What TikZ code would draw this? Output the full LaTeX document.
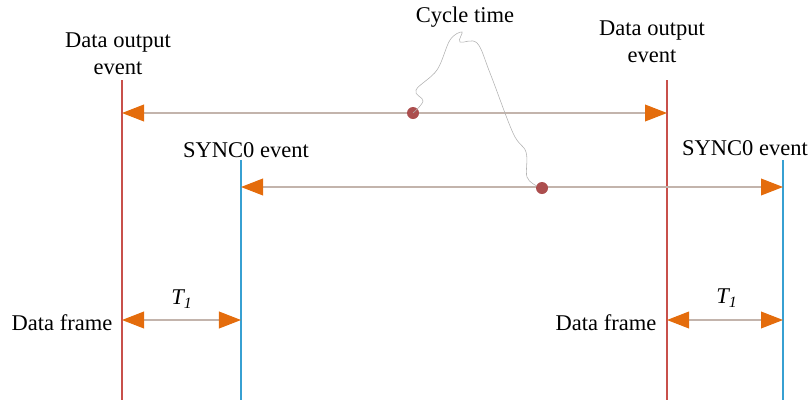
\documentclass[tikz,border=0pt]{standalone}
\usepackage{fontspec}
\setmainfont{Liberation Serif}
\usetikzlibrary{arrows.meta}
\definecolor{evred}{RGB}{200,80,75}
\definecolor{evblue}{RGB}{55,160,210}
\definecolor{tiporange}{RGB}{228,108,12}
\definecolor{shaft}{RGB}{195,180,172}
\definecolor{dotred}{RGB}{172,78,78}
\tikzset{
    lbl/.style={font=\rmfamily\fontsize{16}{19.5}\selectfont, align=center, inner sep=1pt},
    outline/.style={evred, line width=1.3pt},
    syncline/.style={evblue, line width=1.6pt},
    timespan/.style={shaft, line width=0.8pt,
        {Triangle[length=0.55cm,width=0.42cm,color=tiporange]}-{Triangle[length=0.55cm,width=0.42cm,color=tiporange]}},
    marker/.style={circle, fill=dotred, inner sep=0pt, minimum size=0.3cm}
}
\begin{document}
\begin{tikzpicture}[x=0.025cm,y=-0.025cm]
    \useasboundingbox (0,0) rectangle (810,403);
    % event lines
    \coordinate (out1top) at (122,80);  \coordinate (out1bot) at (122,400);
    \coordinate (out2top) at (667,80);  \coordinate (out2bot) at (667,400);
    \coordinate (syn1top) at (241,160); \coordinate (syn1bot) at (241,400);
    \coordinate (syn2top) at (783,160); \coordinate (syn2bot) at (783,400);
    \draw[outline] (out1top) -- (out1bot);
    \draw[outline] (out2top) -- (out2bot);
    \draw[syncline] (syn1top) -- (syn1bot);
    \draw[syncline] (syn2top) -- (syn2bot);
    % labels
    \node[lbl] (out1lbl) at (118,54) {Data output\\event};
    \node[lbl] (out2lbl) at (652,42) {Data output\\event};
    \node[lbl] (syn1lbl) at (246,150) {SYNC0 event};
    \node[lbl] (syn2lbl) at (745,148) {SYNC0 event};
    \node[lbl] (frame1) at (62,323) {Data frame};
    \node[lbl] (frame2) at (606,323) {Data frame};
    \node[lbl] (t1a) at (182,299) {\textit{T\textsubscript{1}}};
    \node[lbl] (t1b) at (727,298) {\textit{T\textsubscript{1}}};
    \node[lbl] (cyc) at (465,17) {Cycle time};
    % spans
    \coordinate (c1l) at (122,113); \coordinate (c1r) at (667,113);
    \coordinate (c2l) at (241,187); \coordinate (c2r) at (783,187);
    \coordinate (t1l) at (122,320); \coordinate (t1r) at (241,320);
    \coordinate (t2l) at (667,320); \coordinate (t2r) at (783,320);
    \draw[timespan] (c1l) -- (c1r);
    \draw[timespan] (c2l) -- (c2r);
    \draw[timespan] (t1l) -- (t1r);
    \draw[timespan] (t2l) -- (t2r);
    % cycle time pointer
    \node[marker] (dot1) at (413,113) {};
    \node[marker] (dot2) at (542,188) {};
    \draw[gray!60, line width=0.4pt] plot[smooth, tension=0.6] coordinates
        {(413,113) (423,101) (416,90) (437,70) (450,40) (462,32) (460,42) (477,43)
         (490,73) (513,133) (526,152) (527,177) (537,186)};
\end{tikzpicture}
\end{document}
